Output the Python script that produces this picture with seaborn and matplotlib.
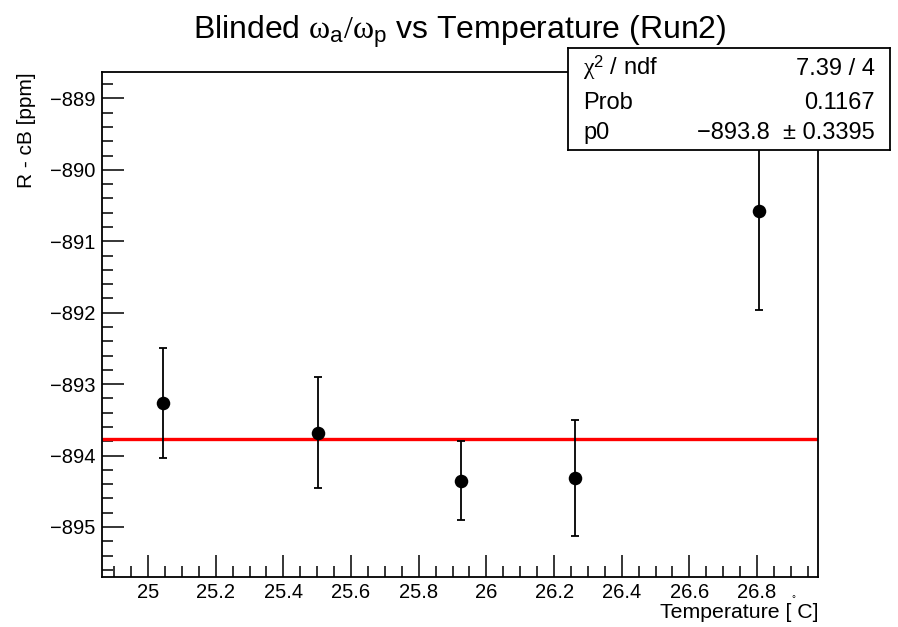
import numpy as np
import pandas as pd
import matplotlib
matplotlib.use("Agg")
import matplotlib.pyplot as plt
from matplotlib.ticker import MultipleLocator
import seaborn as sns

# ---- data ----
temperature = [25.045, 25.502, 25.925, 26.262, 26.805]
r_minus_cb = [-893.26, -893.68, -894.35, -894.31, -890.58]
r_err = [0.77, 0.78, 0.55, 0.81, 1.38]
fit_p0 = -893.77
stats_labels = ["$\\mathrm{\\chi}^{\\mathsf{2}}$ / ndf", "Prob", "p0"]
stats_values = ["7.39 / 4", "0.1167", "\u2212893.8  \u00b1 0.3395"]

sns.set_theme(style="white")
plt.rcParams['font.family'] = ['Liberation Sans', 'DejaVu Sans']
plt.rcParams['text.color'] = 'black'
plt.rcParams['axes.labelcolor'] = 'black'
plt.rcParams['mathtext.fontset'] = 'custom'
plt.rcParams['mathtext.rm'] = 'Liberation Serif'
plt.rcParams['mathtext.it'] = 'Liberation Serif:italic'
plt.rcParams['mathtext.sf'] = 'Liberation Sans'
plt.rcParams['mathtext.bf'] = 'Liberation Sans:bold'

W, H = 898, 627
fig = plt.figure(figsize=(W / 100, H / 100), dpi=100)
fig.patch.set_facecolor("white")
L, R, T, B = 102, 818, 72, 577
ax = fig.add_axes([L / W, 1 - B / H, (R - L) / W, (B - T) / H])
ax.set_facecolor("white")

df = pd.DataFrame({"T": temperature, "R": r_minus_cb, "err": r_err})

ax.axhline(fit_p0, color="#ff0000", lw=2.4, zorder=2)
ax.errorbar(df["T"], df["R"], yerr=df["err"], fmt="none", ecolor="black",
            elinewidth=1.3, capsize=3, capthick=1.3, zorder=3)
sns.scatterplot(data=df, x="T", y="R", ax=ax, color="black", s=95,
                edgecolor="black", linewidth=0, zorder=4, legend=False)

ax.set_xlim(24.864, 26.98)
ax.set_ylim(-895.70, -888.63)
ax.xaxis.set_major_locator(MultipleLocator(0.2))
ax.xaxis.set_minor_locator(MultipleLocator(0.05))
ax.yaxis.set_major_locator(MultipleLocator(1))
ax.yaxis.set_minor_locator(MultipleLocator(0.2))
ax.xaxis.set_major_formatter(matplotlib.ticker.FuncFormatter(lambda v, p: f"{v:g}"))
ax.yaxis.set_major_formatter(matplotlib.ticker.FuncFormatter(lambda v, p: f"\u2212{abs(v):g}" if v < 0 else f"{v:g}"))
ax.tick_params(axis="both", which="major", direction="in", length=16, width=1.1,
               labelsize=14.5, colors="black", labelcolor="black",
               bottom=True, left=True, top=False, right=False)
ax.tick_params(axis="both", which="minor", direction="in", length=8, width=1.1,
               colors="black", bottom=True, left=True, top=False, right=False)
ax.tick_params(axis="x", which="major", pad=4.5)
ax.tick_params(axis="y", which="major", pad=4.5)
for s in ax.spines.values():
    s.set_color("black")
    s.set_linewidth(1.3)
ax.set_xlabel("")
ax.set_ylabel("")

# axis titles (ROOT style, aligned to axis ends)
fig.text(R / W, 1 - 613 / H, "Temperature [ C]", ha="right", va="center", fontsize=15.3, color="black")
fig.text(793 / W, 1 - 599 / H, "\u00b0", ha="center", va="center", fontsize=7, color="black")
fig.text(26 / W, 1 - T / H, "R - cB [ppm]", ha="center", va="top", rotation=90, fontsize=15, color="black")

# title
fig.text(460 / W, 1 - 38 / H,
         "Blinded $\\mathrm{\\omega}_{\\mathsf{a}}/\\mathrm{\\omega}_{\\mathsf{p}}$ vs Temperature (Run2)",
         ha="center", va="baseline", fontsize=23, color="black")

# stats box
bx0, bx1, by0, by1 = 568, 890, 48, 150
bax = fig.add_axes([bx0 / W, 1 - by1 / H, (bx1 - bx0) / W, (by1 - by0) / H])
bax.set_facecolor("white")
bax.set_xticks([])
bax.set_yticks([])
for s in bax.spines.values():
    s.set_color("black")
    s.set_linewidth(1.3)
rows_y = [75, 109, 139]
for lab, val, yy in zip(stats_labels, stats_values, rows_y):
    fig.text(583 / W, 1 - yy / H, lab, ha="left", va="baseline", fontsize=17, color="black")
    fig.text(875 / W, 1 - yy / H, val, ha="right", va="baseline", fontsize=17, color="black")

fig.savefig("out.png", dpi=100, facecolor="white")
